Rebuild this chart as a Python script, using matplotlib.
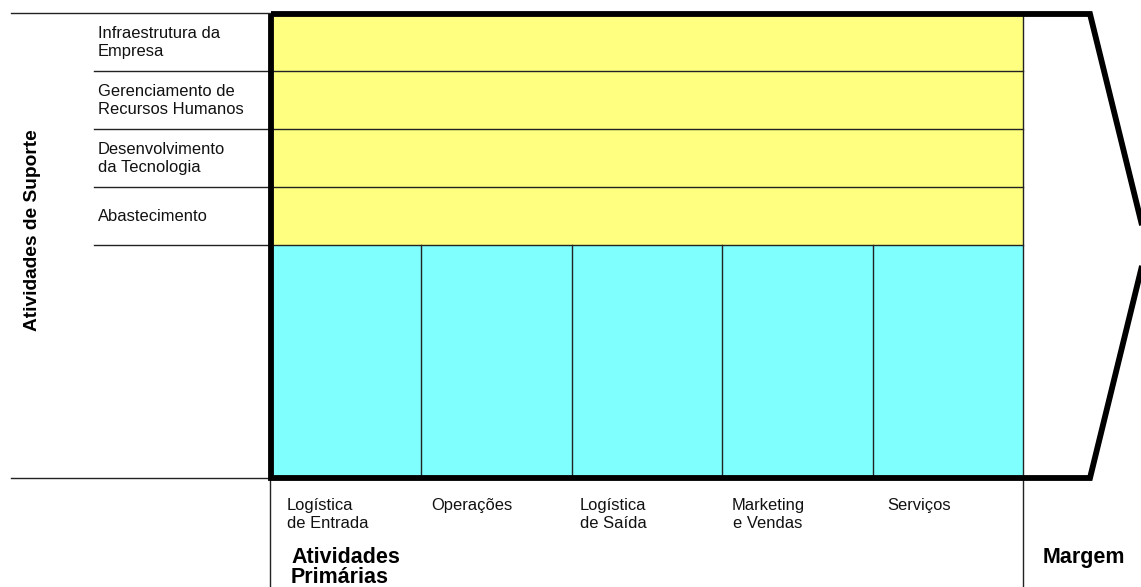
import matplotlib
matplotlib.use("Agg")
import matplotlib.pyplot as plt
from matplotlib.patches import Polygon

plt.rcParams['font.family'] = ['Liberation Sans', 'DejaVu Sans']

# dados da cadeia de valor
support_activities = [
    "Infraestrutura da\nEmpresa",
    "Gerenciamento de\nRecursos Humanos",
    "Desenvolvimento\nda Tecnologia",
    "Abastecimento",
]
primary_activities = [
    "Logística\nde Entrada",
    "Operações",
    "Logística\nde Saída",
    "Marketing\ne Vendas",
    "Serviços",
]
side_title = "Atividades de Suporte"
bottom_title = "Atividades\nPrimárias"
margin_title = "Margem"

# layout (pixels)
W, H = 1141, 587
x_left, x_right, x_arrow, x_tip = 271, 1023, 1090, 1147
y_top, y_sup, y_bot = 13, 245, 478
x_label = 98
primary_align = ['left', 'left', 'center', 'center', 'left']
primary_dx = [16, 10, 8, 9, 15]

yellow = '#ffff80'
cyan = '#80ffff'

fig = plt.figure(figsize=(W / 100, H / 100), dpi=100)
ax = fig.add_axes([0, 0, 1, 1])
ax.set_xlim(0, W)
ax.set_ylim(H, 0)
ax.axis('off')

# linhas de suporte (amarelo)
n_rows = len(support_activities)
row_h = (y_sup - y_top) / n_rows
row_c = [y_top + row_h * (i + 0.5) for i in range(n_rows)]
ax.barh(row_c, x_right - x_left, left=x_left, height=row_h,
        color=yellow, edgecolor='none', zorder=1)
for i, lab in enumerate(support_activities):
    ax.text(x_label, row_c[i] + 0.5, lab, ha='left', va='center',
            fontsize=11.9, color='#111111', linespacing=1.22)
    y_line = y_top + row_h * (i + 1)
    ax.plot([94, x_right], [y_line, y_line], color='#222222', lw=1, zorder=2)

# atividades primárias (ciano)
n_cols = len(primary_activities)
col_w = (x_right - x_left) / n_cols
col_l = [x_left + col_w * i for i in range(n_cols)]
ax.bar(col_l, y_bot - y_sup, bottom=y_sup, width=col_w, align='edge',
       color=cyan, edgecolor='none', zorder=1)
for i, lab in enumerate(primary_activities):
    if i > 0:
        ax.plot([col_l[i], col_l[i]], [y_sup, y_bot], color='#222222', lw=1, zorder=2)
    ax.text(col_l[i] + primary_dx[i], 498, lab, ha='left', va='top',
            multialignment=primary_align[i], fontsize=11.9,
            color='#111111', linespacing=1.22)

# linhas finas auxiliares
ax.plot([x_right, x_right], [y_top, H], color='#222222', lw=1, zorder=2)
ax.plot([x_left - 1, x_left - 1], [y_bot, H], color='#222222', lw=1, zorder=2)
ax.plot([11, x_left], [12.5, 12.5], color='#222222', lw=1, zorder=2)
ax.plot([11, x_left], [478, 478], color='#222222', lw=1, zorder=2)

# contorno em seta
arrow = Polygon([(x_left, y_top + 1), (x_arrow, y_top + 1), (x_tip, (y_top + y_bot) / 2),
                 (x_arrow, y_bot), (x_left, y_bot)],
                closed=True, fill=False, edgecolor='black', lw=4.2,
                joinstyle='miter', zorder=3)
ax.add_patch(arrow)

# títulos
ax.text(33, 230, side_title, rotation=90, ha='center', va='center',
        fontsize=13.8, fontweight='bold', color='black')
ax.text(291, 547, bottom_title, ha='left', va='top', fontsize=15.5,
        fontweight='bold', color='black', linespacing=0.95)
ax.text(1043, 558, margin_title, ha='left', va='center', fontsize=15.5,
        fontweight='bold', color='black')

fig.savefig('out.png', dpi=100)
